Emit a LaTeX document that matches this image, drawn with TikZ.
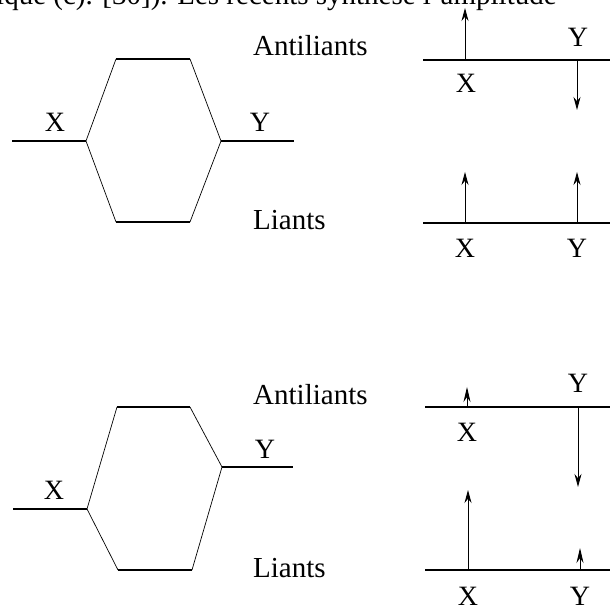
\documentclass[tikz,border=0pt]{standalone}
\usepackage{fontspec}
\setmainfont{Liberation Serif}
\usetikzlibrary{arrows.meta}
\begin{document}
\begin{tikzpicture}[x=1pt,y=1pt,
  level/.style={line width=1.3pt},
  slant/.style={line width=0.7pt},
  lab/.style={inner sep=0pt,font=\fontsize{28}{30}\selectfont},
  word/.style={inner sep=0pt,anchor=base west,font=\fontsize{29}{31}\selectfont},
  spin/.style={line width=0.9pt,-{Stealth[length=13pt,width=7pt]}},
  tinyspin/.style={line width=0.9pt,-{Stealth[length=15pt,width=7pt]}}]
\useasboundingbox (0,0) rectangle (610,609);
\begin{scope}
\clip (0,0) rectangle (610,609);
\node[word] (hdr) at (-4,604) {ique (c). [30]). Les récents synthèse l'amplitude};
\end{scope}
% ---- top hexagon
\coordinate (a1) at (12,468); \coordinate (a2) at (86,468);
\coordinate (a3) at (116,550); \coordinate (a4) at (190,550);
\coordinate (a5) at (221,468); \coordinate (a6) at (294,468);
\coordinate (a7) at (116,387); \coordinate (a8) at (190,387);
\draw[level] (a1) -- (a2);
\draw[level] (a3) -- (a4);
\draw[level] (a7) -- (a8);
\draw[level] (a5) -- (a6);
\draw[slant] (a2) -- (a3) (a4) -- (a5) -- (a8) (a7) -- (a2);
\node[lab] (ax) at (55,487) {X};
\node[lab] (ay) at (260,487) {Y};
\node[word] (anti1) at (253,553) {Antiliants};
\node[word] (liant1) at (253,379) {Liants};
% ---- bottom hexagon
\coordinate (b1) at (13,100); \coordinate (b2) at (87,100);
\coordinate (b3) at (117,202); \coordinate (b4) at (190,202);
\coordinate (b5) at (222,142); \coordinate (b6) at (293,142);
\coordinate (b7) at (118,39); \coordinate (b8) at (192,39);
\draw[level] (b1) -- (b2);
\draw[level] (b3) -- (b4);
\draw[level] (b7) -- (b8);
\draw[level] (b5) -- (b6);
\draw[slant] (b2) -- (b3) (b4) -- (b5) -- (b8) (b7) -- (b2);
\node[lab] (bx) at (54,119) {X};
\node[lab] (by) at (265,160) {Y};
\node[word] (anti2) at (253,204) {Antiliants};
\node[word] (liant2) at (253,31) {Liants};
% ---- top right
\coordinate (r1) at (423,549); \coordinate (r2) at (610,549);
\coordinate (r1x) at (465,549); \coordinate (r1xt) at (465,601);
\coordinate (r1y) at (577,549); \coordinate (r1yt) at (577,499);
\draw[level] (r1) -- (r2);
\draw[spin] (r1x) -- (r1xt);
\draw[spin] (r1y) -- (r1yt);
\node[lab] (r1Y) at (578,572) {Y};
\node[lab] (r1X) at (466,526) {X};
\coordinate (r3) at (423,386); \coordinate (r4) at (610,386);
\coordinate (r3x) at (465,386); \coordinate (r3xt) at (465,437);
\coordinate (r3y) at (577,386); \coordinate (r3yt) at (577,437);
\draw[level] (r3) -- (r4);
\draw[spin] (r3x) -- (r3xt);
\draw[spin] (r3y) -- (r3yt);
\node[lab] (r3X) at (465,361) {X};
\node[lab] (r3Y) at (577,361) {Y};
% ---- bottom right
\coordinate (s1) at (425,202); \coordinate (s2) at (610,202);
\coordinate (s1x) at (467,202); \coordinate (s1xt) at (467,222);
\coordinate (s1y) at (578,202); \coordinate (s1yt) at (578,122);
\draw[level] (s1) -- (s2);
\draw[tinyspin] (s1x) -- (s1xt);
\draw[spin] (s1y) -- (s1yt);
\node[lab] (s1Y) at (578,226) {Y};
\node[lab] (s1X) at (467,177) {X};
\coordinate (s3) at (425,39); \coordinate (s4) at (610,39);
\coordinate (s3x) at (468,39); \coordinate (s3xt) at (468,119);
\coordinate (s3y) at (580,39); \coordinate (s3yt) at (580,61);
\draw[level] (s3) -- (s4);
\draw[spin] (s3x) -- (s3xt);
\draw[tinyspin] (s3y) -- (s3yt);
\node[lab] (s3X) at (468,13) {X};
\node[lab] (s3Y) at (580,13) {Y};
\end{tikzpicture}
\end{document}
